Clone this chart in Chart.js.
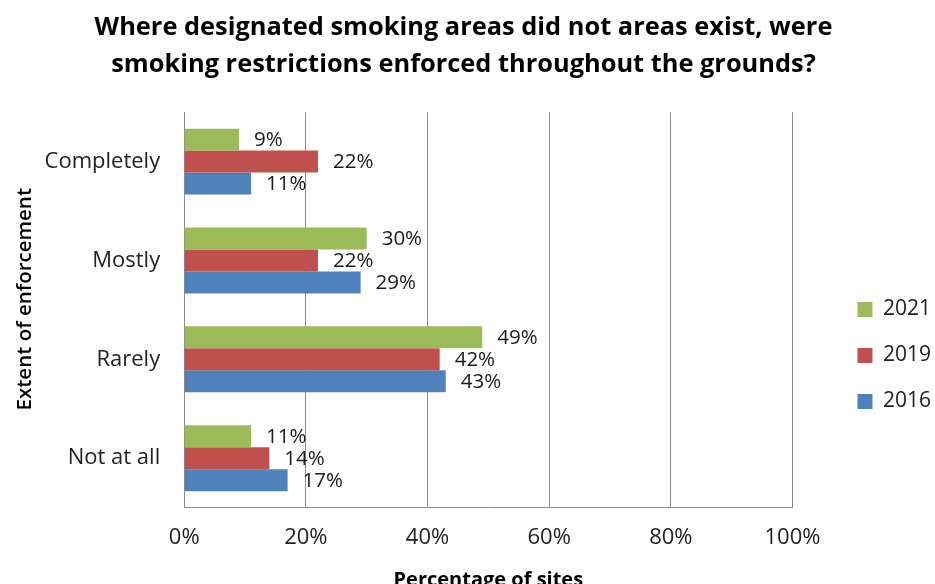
<!DOCTYPE html>
<html>
<head>
<meta charset="utf-8">
<script src="https://cdn.jsdelivr.net/npm/chart.js@4/dist/chart.umd.min.js"></script>
<style>
  html, body { margin: 0; padding: 0; background: #fff; }
  #wrap { width: 935px; height: 584px; }
</style>
</head>
<body>
<div id="wrap"><canvas id="enforcementChart"></canvas></div>
<script>
const categories = ["Completely", "Mostly", "Rarely", "Not at all"];
const seriesNames = ["2021", "2019", "2016"];
const values2021 = [9, 30, 49, 11];
const values2019 = [22, 22, 42, 14];
const values2016 = [11, 29, 43, 17];
const tickValues = [0, 20, 40, 60, 80, 100];

const fontFamily = "'Open Sans', sans-serif";

// writes the % value just right of each bar
const barLabels = {
    id: "barLabels",
    afterDatasetsDraw(chart) {
        const ctx = chart.ctx;
        ctx.save();
        ctx.font = "20.5px " + fontFamily;
        ctx.fillStyle = "#1a1a1a";
        ctx.textAlign = "left";
        ctx.textBaseline = "middle";
        chart.data.datasets.forEach((ds, i) => {
            const meta = chart.getDatasetMeta(i);
            meta.data.forEach((bar, j) => {
                ctx.fillText(ds.data[j] + "%", bar.x + 15, bar.y + 1);
            });
        });
        ctx.restore();
    },
};

// legend and title sit a little off from where chart.js puts them
const legendShift = { dx: 40, dy: 55 };
const titleShift = 13;
const nudgeBoxes = {
    id: "nudgeBoxes",
    afterLayout(chart) {
        const lg = chart.legend;
        lg.left += legendShift.dx;
        lg.right += legendShift.dx;
        lg.top += legendShift.dy;
        lg.bottom += legendShift.dy;
        const tb = chart.titleBlock;
        if (tb) {
            tb.left += titleShift;
            tb.right += titleShift;
        }
    },
};

const ctx = document.getElementById("enforcementChart").getContext("2d");

new Chart(ctx, {
    type: "bar",
    data: {
        labels: categories,
        datasets: [
            { label: seriesNames[0], data: values2021, backgroundColor: "#9BBB59" },
            { label: seriesNames[1], data: values2019, backgroundColor: "#C0504D" },
            { label: seriesNames[2], data: values2016, backgroundColor: "#4F81BD" },
        ],
    },
    options: {
        indexAxis: "y",
        responsive: true,
        maintainAspectRatio: false,
        animation: false,
        datasets: {
            bar: { categoryPercentage: 0.667, barPercentage: 1.0 },
        },
        layout: {
            padding: { left: 0, right: 34, top: 9, bottom: -8 },
        },
        scales: {
            x: {
                min: 0,
                max: 100,
                afterBuildTicks(axis) {
                    axis.ticks = tickValues.map((v) => ({ value: v }));
                },
                ticks: {
                    callback: (v) => v + "%",
                    color: "#222",
                    font: { size: 22, family: fontFamily },
                    padding: 17,
                },
                grid: { color: "#8c8c8c", drawTicks: false },
                border: { color: "#8c8c8c" },
                title: {
                    display: true,
                    text: "Percentage of sites",
                    color: "#000",
                    font: { size: 20, weight: "bold", family: fontFamily },
                    padding: { top: 0, bottom: 0 },
                },
            },
            y: {
                ticks: {
                    color: "#222",
                    font: { size: 22, family: fontFamily },
                    padding: 24,
                },
                grid: { display: false, drawTicks: false },
                border: { color: "#8c8c8c" },
                title: {
                    display: true,
                    text: "    Extent of enforcement",
                    color: "#000",
                    font: { size: 20.5, weight: "600", family: fontFamily },
                    padding: { top: 13, bottom: -17 },
                },
            },
        },
        plugins: {
            title: {
                display: true,
                text: [
                    "Where designated smoking areas did not areas exist, were",
                    "smoking restrictions enforced throughout the grounds?",
                ],
                color: "#000",
                font: { size: 25.4, weight: "bold", family: fontFamily, lineHeight: 1.46 },
                padding: { top: 0, bottom: 29 },
            },
            legend: {
                position: "right",
                labels: {
                    boxWidth: 15,
                    boxHeight: 15,
                    padding: 25,
                    color: "#222",
                    font: { size: 21, family: fontFamily },
                },
            },
            tooltip: { enabled: false },
        },
    },
    plugins: [barLabels, nudgeBoxes],
});
</script>
</body>
</html>
